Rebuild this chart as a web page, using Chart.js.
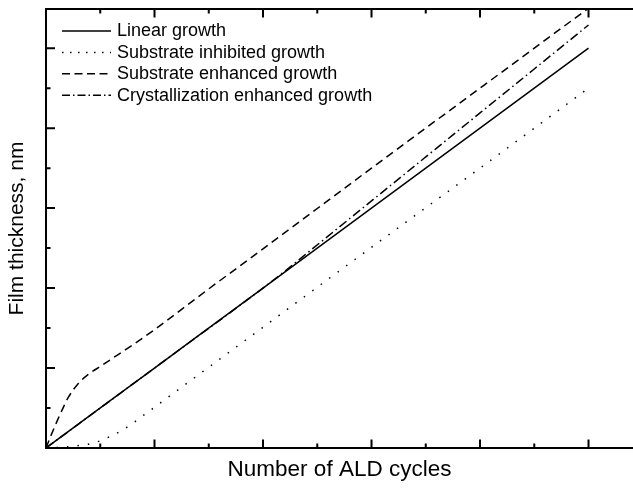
<!DOCTYPE html>
<html>
<head>
<meta charset="utf-8">
<script src="https://cdn.jsdelivr.net/npm/chart.js@4.4.0/dist/chart.umd.min.js"></script>
<style>
html, body { margin: 0; padding: 0; background: #fff; }
</style>
</head>
<body>
<canvas id="growth" width="633" height="488"></canvas>
<script>
// curves, x and y in major-tick units
var linearX = [0, 1, 2, 3, 4, 5];
var linearY = [0, 1, 2, 3, 4, 5];

var inhibitedX = [0, 0.1, 0.2, 0.3, 0.4, 0.5, 0.6, 0.7, 0.8, 0.9, 1, 1.5, 2, 3, 4, 5];
var inhibitedY = [0, 0.005, 0.015, 0.03, 0.05, 0.09, 0.15, 0.22, 0.31, 0.41, 0.51, 1.01, 1.51, 2.51, 3.5, 4.5];

var enhancedX = [0, 0.05, 0.1, 0.15, 0.2, 0.3, 0.4, 0.5, 0.6, 0.7, 0.8, 1, 1.5, 2, 3, 4, 5];
var enhancedY = [0, 0.17, 0.33, 0.48, 0.62, 0.81, 0.93, 1.02, 1.11, 1.2, 1.29, 1.48, 1.99, 2.49, 3.5, 4.5, 5.5];

var crystalX = [0, 1, 2, 2.2, 2.4, 2.6, 2.8, 3, 3.5, 4, 4.5, 5];
var crystalY = [0, 1, 2, 2.21, 2.43, 2.65, 2.87, 3.09, 3.64, 4.19, 4.74, 5.29];

var seriesNames = ['Linear growth', 'Substrate inhibited growth', 'Substrate enhanced growth', 'Crystallization enhanced growth'];
var seriesDash = [[], [1.5, 9], [8, 5], [9, 3.5, 1.5, 3.5]];
var legendDash = [[], [1.5, 6.5], [8, 4.5], [8, 3, 1.5, 3]];

// tick marks (no labels)
var xTicks = [0, 0.5, 1, 1.5, 2, 2.5, 3, 3.5, 4, 4.5, 5];
var yTicks = [0, 0.5, 1, 1.5, 2, 2.5, 3, 3.5, 4, 4.5, 5];

function pts(xs, ys) {
    var out = [];
    for (let i = 0; i < xs.length; i++) {
        out.push({x: xs[i], y: ys[i]});
    }
    return out;
}

var font = "'Liberation Sans', Arial, sans-serif";

var frameTicks = {
    id: 'frameTicks',
    afterDatasetsDraw: function(chart) {
        var ctx = chart.ctx;
        var a = chart.chartArea;
        var sx = chart.scales.x;
        var sy = chart.scales.y;
        ctx.save();
        ctx.strokeStyle = '#000';
        ctx.lineWidth = 2;
        ctx.setLineDash([]);
        ctx.beginPath();
        ctx.moveTo(a.right, a.top);
        ctx.lineTo(a.left, a.top);
        ctx.lineTo(a.left, a.bottom);
        ctx.lineTo(a.right, a.bottom);
        for (let i = 0; i < xTicks.length; i++) {
            var px = sx.getPixelForValue(xTicks[i]);
            var len = i % 2 ? 4.5 : 8.5;
            ctx.moveTo(px, a.bottom);
            ctx.lineTo(px, a.bottom - len);
            ctx.moveTo(px, a.top);
            ctx.lineTo(px, a.top + len);
        }
        for (let j = 0; j < yTicks.length; j++) {
            var py = sy.getPixelForValue(yTicks[j]);
            var l2 = j % 2 ? 4.5 : 9;
            ctx.moveTo(a.left, py);
            ctx.lineTo(a.left + l2, py);
        }
        ctx.stroke();

        // legend
        ctx.font = '18px ' + font;
        ctx.fillStyle = '#000';
        ctx.textBaseline = 'middle';
        ctx.lineWidth = 1.5;
        chart.data.datasets.forEach(function(ds, k) {
            var y = 31 + k * 21.4;
            ctx.setLineDash(legendDash[k]);
            ctx.beginPath();
            ctx.moveTo(62, y);
            ctx.lineTo(111, y);
            ctx.stroke();
            ctx.fillText(ds.label, 117, y + 0.5);
        });
        ctx.restore();
    }
};

function dataset(i, xs, ys) {
    return {
        label: seriesNames[i],
        data: pts(xs, ys),
        borderColor: '#000',
        borderWidth: 1.5,
        borderDash: seriesDash[i],
        pointRadius: 0,
        cubicInterpolationMode: 'monotone',
        fill: false
    };
}

var ctx = document.getElementById('growth').getContext('2d');
var growthChart = new Chart(ctx, {
    type: 'line',
    data: {
        datasets: [
            dataset(0, linearX, linearY),
            dataset(1, inhibitedX, inhibitedY),
            dataset(2, enhancedX, enhancedY),
            dataset(3, crystalX, crystalY)
        ]
    },
    options: {
        responsive: false,
        animation: false,
        devicePixelRatio: 1,
        layout: { padding: { top: 9, right: 0, left: 0, bottom: 0 } },
        plugins: {
            legend: { display: false },
            tooltip: { enabled: false }
        },
        scales: {
            x: {
                type: 'linear',
                min: 0,
                max: 5.41,
                ticks: { display: false },
                grid: { display: false, drawTicks: false },
                border: { display: false },
                title: {
                    display: true,
                    text: 'Number of ALD cycles',
                    color: '#000',
                    font: { family: font, size: 22.5 },
                    padding: { top: 8.5, bottom: 4.5 }
                }
            },
            y: {
                type: 'linear',
                min: 0,
                max: 5.49,
                ticks: { display: false },
                grid: { display: false, drawTicks: false },
                border: { display: false },
                title: {
                    display: true,
                    text: 'Film thickness, nm',
                    color: '#000',
                    font: { family: font, size: 21 },
                    padding: { top: 5, bottom: 15.8 }
                }
            }
        }
    },
    plugins: [frameTicks]
});
</script>
</body>
</html>
